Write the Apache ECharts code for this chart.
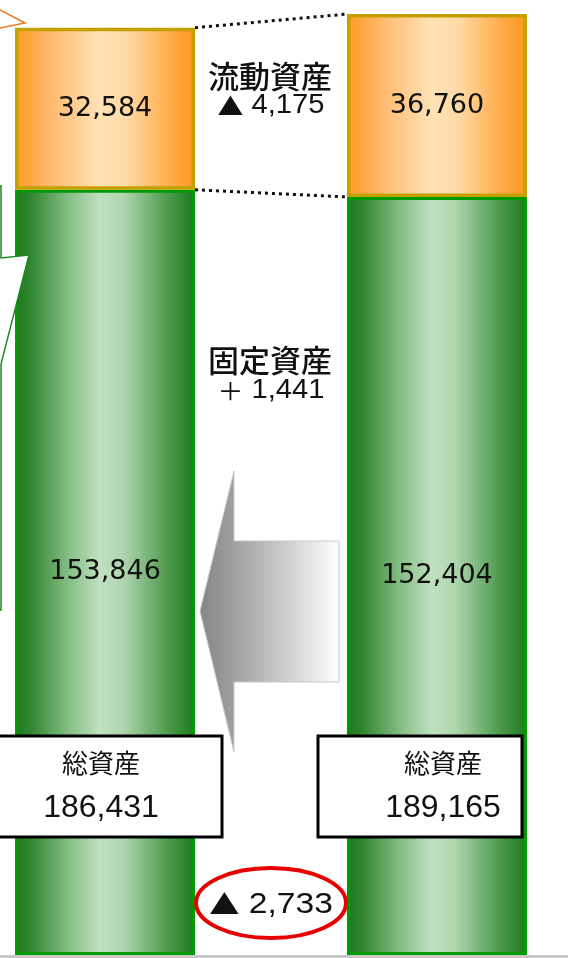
<!DOCTYPE html>
<html>
<head>
<meta charset="utf-8">
<script src="https://cdn.jsdelivr.net/npm/echarts@6/dist/echarts.min.js"></script>
<style>
html,body{margin:0;padding:0;background:#fff;}
#main{width:568px;height:958px;}
</style>
</head>
<body>
<div id="main"></div>
<script>
// ---- data ----
const categories = ['総資産'];
const periods = ['当期', '前期'];
const fixedAssets = [153846, 152404];
const currentAssets = [32584, 36760];
const totalAssets = [186431, 189165];
const currentLabel = ['流動資産', '▲', '4,175'];
const fixedLabel = ['固定資産', '＋', '1,441'];
const totalTitle = '総資産';
const totalDiff = ['▲', '2,733'];

const CJK = "'Noto Sans CJK JP', sans-serif";
const NUM = "'Liberation Sans', Arial, sans-serif";

const greenGrad = new echarts.graphic.LinearGradient(0, 0, 1, 0, [
  {offset: 0, color: '#1b7a1b'},
  {offset: 0.08, color: '#2f842f'},
  {offset: 0.3, color: '#86bf86'},
  {offset: 0.47, color: '#c0e0c0'},
  {offset: 0.6, color: '#b0d6b0'},
  {offset: 0.85, color: '#4d9a4d'},
  {offset: 1, color: '#1b7a1b'}
]);
const orangeGrad = new echarts.graphic.LinearGradient(0, 0, 1, 0, [
  {offset: 0, color: '#ff9a20'},
  {offset: 0.2, color: '#ffba70'},
  {offset: 0.47, color: '#ffe2b6'},
  {offset: 0.62, color: '#ffd9a6'},
  {offset: 0.88, color: '#ffa840'},
  {offset: 1, color: '#ff9820'}
]);

const chart = echarts.init(document.getElementById('main'), null, {renderer: 'canvas'});
const fmt = v => Number(v).toLocaleString('en-US');
const labelStyle = {show: true, position: 'inside', formatter: p => fmt(p.value),
  fontFamily: "'DejaVu Sans', sans-serif", fontSize: 27, color: '#111'};

const series = [];
periods.forEach((p, i) => {
  series.push({
    name: p + '固定資産', type: 'bar', stack: 's' + i, barWidth: 180, barGap: '84.4%',
    data: [fixedAssets[i]],
    itemStyle: {color: greenGrad, borderColor: '#009900', borderWidth: 3},
    label: labelStyle
  });
  series.push({
    name: p + '流動資産', type: 'bar', stack: 's' + i, barWidth: 180, barGap: '84.4%',
    data: [currentAssets[i]],
    itemStyle: {color: orangeGrad, borderColor: '#c4a000', borderWidth: 3.5},
    label: labelStyle
  });
});

chart.setOption({
  animation: false,
  backgroundColor: '#fff',
  grid: {left: 0, right: 26, top: 0, bottom: 3, containLabel: false},
  xAxis: {
    type: 'category', data: categories,
    axisLine: {show: false}, axisTick: {show: false}, axisLabel: {show: false}
  },
  yAxis: {
    type: 'value', min: 0, max: 192000,
    show: false, splitLine: {show: false}
  },
  series: series
});

// connectors computed from bar layouts
function layoutOf(si) {
  return chart.getModel().getSeriesByIndex(si).getData().getItemLayout(0);
}
const lF = layoutOf(0), lC = layoutOf(1), rF = layoutOf(2), rC = layoutOf(3);
const lRight = lC.x + lC.width, rLeft = rC.x;
const lTop = Math.min(lC.y, lC.y + lC.height), lMid = Math.min(lF.y, lF.y + lF.height);
const rTop = Math.min(rC.y, rC.y + rC.height), rMid = Math.min(rF.y, rF.y + rF.height);
const midX = (lRight + rLeft) / 2;
const baseY = Math.max(lF.y, lF.y + lF.height);

function txt(t, x, y, font, scaleX, color) {
  return {type: 'text', x: x, y: y, scaleX: scaleX || 1, z: 20,
    style: {text: t, x: 0, y: 0, font: font, fill: color || '#111',
      align: 'center', verticalAlign: 'middle', textAlign: 'center', textVerticalAlign: 'middle'}};
}
function richTxt(sym, num, x, y, symSize, numSize, scaleX) {
  return {type: 'text', x: x, y: y, scaleX: scaleX || 1, z: 20,
    style: {text: '{s|' + sym + '}{n| ' + num + '}', x: 0, y: 0, fill: '#111',
      align: 'center', verticalAlign: 'middle', textAlign: 'center', textVerticalAlign: 'middle',
      rich: {
        s: {fontFamily: CJK, fontSize: symSize, color: '#111', verticalAlign: 'middle'},
        n: {fontFamily: NUM, fontSize: numSize, color: '#111', verticalAlign: 'middle'}
      }}};
}

chart.setOption({
  graphic: [
    // baseline
    {type: 'line', z: 1, shape: {x1: 0, y1: baseY + 1.5, x2: 568, y2: baseY + 1.5},
      style: {stroke: '#c8c8c8', lineWidth: 3}},
    // dotted connectors
    {type: 'line', z: 10, shape: {x1: lRight, y1: lTop, x2: rLeft, y2: rTop},
      style: {stroke: '#111', lineWidth: 3, lineDash: [3, 4]}},
    {type: 'line', z: 10, shape: {x1: lRight, y1: lMid, x2: rLeft, y2: rMid},
      style: {stroke: '#111', lineWidth: 3, lineDash: [3, 4]}},
    // middle labels
    txt(currentLabel[0], midX - 1, 76, '500 31px ' + CJK, 1),
    richTxt(currentLabel[1], currentLabel[2], midX, 106, 24, 27, 1.08),
    txt(fixedLabel[0], midX - 1, 360, '500 31px ' + CJK, 1),
    richTxt(fixedLabel[1], fixedLabel[2], midX, 391, 24, 27, 1.08),
    // arrow
    {type: 'polygon', z: 10,
      shape: {points: [[200, 611], [234, 471], [234, 541], [339, 541], [339, 682], [234, 682], [234, 752]]},
      style: {fill: new echarts.graphic.LinearGradient(0, 0, 1, 0, [
        {offset: 0, color: '#858585'}, {offset: 0.3, color: '#a6a6a6'}, {offset: 1, color: '#ffffff'}]),
        stroke: '#c8c8c8', lineWidth: 1}},
    // total boxes
    {type: 'rect', z: 15, shape: {x: -3, y: 736, width: 225, height: 101},
      style: {fill: '#fff', stroke: '#000', lineWidth: 3}},
    {type: 'rect', z: 15, shape: {x: 318, y: 736, width: 204, height: 101},
      style: {fill: '#fff', stroke: '#000', lineWidth: 3}},
    txt(totalTitle, 101, 763, 'normal 26px ' + CJK, 1),
    txt(fmt(totalAssets[0]), 101, 808, 'normal 32px ' + NUM, 1),
    txt(totalTitle, 443, 763, 'normal 26px ' + CJK, 1),
    txt(fmt(totalAssets[1]), 443, 808, 'normal 32px ' + NUM, 1),
    // difference ellipse
    {type: 'ellipse', z: 15, shape: {cx: midX, cy: 903, rx: 75, ry: 35},
      style: {fill: '#fff', stroke: '#e60000', lineWidth: 4}},
    richTxt(totalDiff[0], totalDiff[1], midX, 905, 27, 30, 1.12),
    // left partial callouts (white filled, partly off-canvas)
    {type: 'polygon', z: 15,
      shape: {points: [[-10, 186], [1, 186], [1, 258], [29, 255], [1, 364], [1, 610], [-10, 610]]},
      style: {stroke: '#1e8a1e', lineWidth: 1.5, fill: '#fff'}},
    {type: 'polygon', z: 15, shape: {points: [[-10, 6], [0, 10], [25, 23], [0, 28], [-10, 30]]},
      style: {stroke: '#f07a20', lineWidth: 1.5, fill: '#fff'}}
  ]
});
</script>
</body>
</html>
